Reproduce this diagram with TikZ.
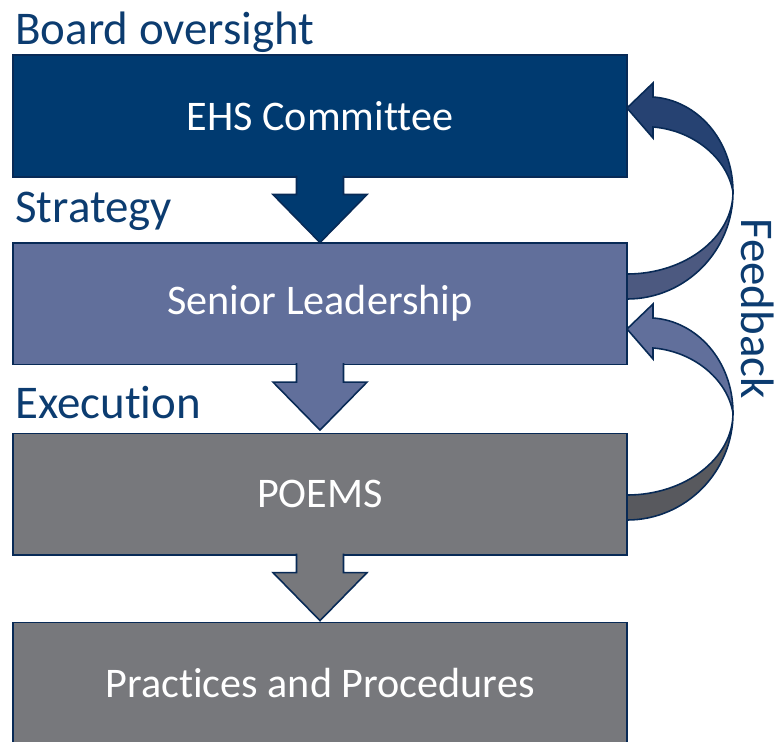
\documentclass[tikz,border=0pt]{standalone}
\usepackage{fontspec}
\setmainfont{Carlito}[Ligatures=NoCommon, RawFeature={-liga;-clig;-calt;-dlig}]
\usepackage{tikz}
\usetikzlibrary{positioning}
\definecolor{navy}{RGB}{0,58,112}
\definecolor{slate}{RGB}{97,111,155}
\definecolor{steel}{RGB}{119,120,124}
\definecolor{edge}{RGB}{8,42,86}
\definecolor{labelblue}{RGB}{12,60,112}
\definecolor{fbnavy}{RGB}{38,66,114}
\definecolor{fbnavyback}{RGB}{76,89,128}
\definecolor{fbslate}{RGB}{97,111,155}
\definecolor{fbsteelback}{RGB}{88,89,94}
\tikzset{
  tier/.style={draw=edge, line width=0.9pt, minimum width=12.28cm,
      minimum height=2.43cm, inner sep=0pt, text=white,
      font=\fontsize{24}{28}\selectfont},
  level/.style={anchor=base west, inner sep=0pt, text=labelblue,
      font=\fontsize{26.7}{30}\selectfont},
  blockdown/.pic={
      \filldraw[fill=\Col, draw=edge, line width=0.9pt]
      (-23.5,-2) -- (-23.5,17) -- (-47,17) -- (0,65) -- (47,17) -- (23.5,17) -- (23.5,-2);
    },
  feedback/.pic={
      \filldraw[fill=\Back, draw=edge, line width=0.9pt]
      (0,82) .. controls (58.5,82) and (106,45) .. (106,0)
      .. controls (106,59) and (58.5,107) .. (0,107);
      \filldraw[fill=\Front, draw=edge, line width=0.9pt]
      (106,0) .. controls (100,-35) and (65,-62) .. (26,-65)
      -- (26,-54) -- (0,-84) -- (26,-109) -- (26,-95)
      .. controls (70,-92) and (106,-52) .. (106,0) -- cycle;
    },
}
\begin{document}
\begin{tikzpicture}[x=0.02cm, y=-0.02cm]
      \useasboundingbox (0,0) rectangle (776,741);
      \clip (0,0) rectangle (776,741);

      % feedback loops
      \foreach \Point/\Front/\Back in {(627,192)/fbnavy/fbnavyback, (627,413)/fbslate/fbsteelback}{
          \pic at \Point {feedback};
        }

      \node [tier, fill=navy] (ehs) at (320,116) {EHS Committee};
      \node [tier, fill=slate, below=1.29cm of ehs] (senior) {Senior Leadership};
      \node [tier, fill=steel, below=1.35cm of senior] (poems) {POEMS};
      \node [tier, fill=steel, below=1.32cm of poems] (practices) {Practices and Procedures};

      \node [level] (board) at (15,44) {Board oversight};
      \node [level] (strategy) at (15,222) {Strategy};
      \node [level] (execution) at (15,418) {Execution};
      \node [level, rotate=-90] (fb) at (741,218) {Feedback};

      \foreach \Box/\Col in {ehs/navy, senior/slate, poems/steel}{
          \pic at (\Box.south) {blockdown};
        }
    \end{tikzpicture}
\end{document}
